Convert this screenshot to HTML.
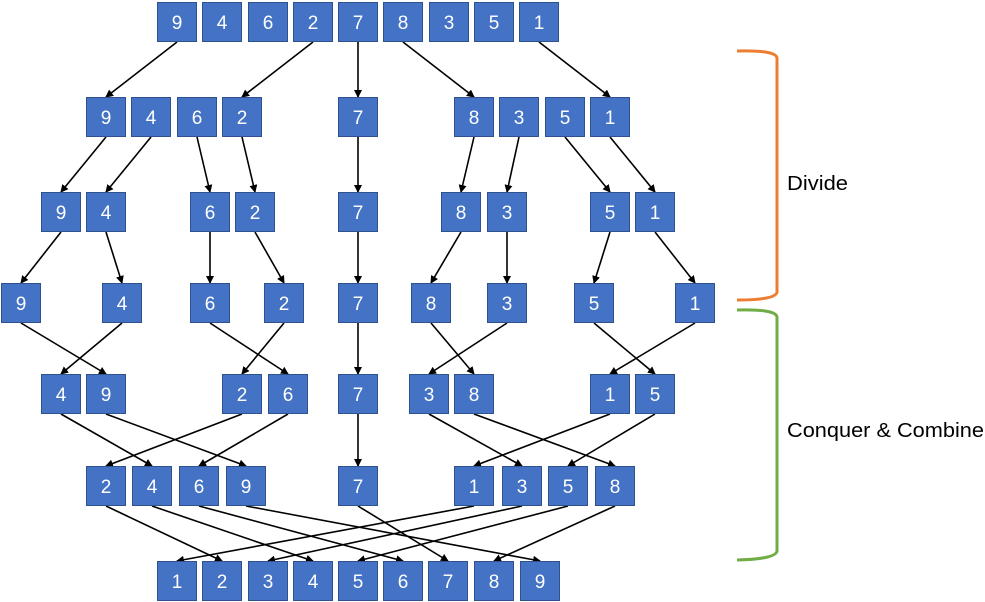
<!DOCTYPE html>
<html><head><meta charset="utf-8"><style>
html,body{margin:0;padding:0;background:#fff;width:985px;height:602px;overflow:hidden}
svg{display:block}
text{font-family:"Liberation Sans",sans-serif}
</style></head><body>
<svg id="s" width="985" height="602" xmlns="http://www.w3.org/2000/svg">
<defs><marker id="a" markerWidth="8" markerHeight="8" refX="7" refY="4" orient="auto" markerUnits="userSpaceOnUse"><path d="M0,0 L8,4 L0,8 z" fill="#000"/></marker></defs>
<g id="lines"></g><g id="boxes"></g>
<path d="M737,51 Q776,50 777,58 L777,292 Q776,300 737,300" fill="none" stroke="#ED7D31" stroke-width="3"/>
<path d="M737,310 Q776,309 777,317 L777,551 Q776,559 737,560" fill="none" stroke="#70AD47" stroke-width="3"/>
<text x="787" y="190" font-size="20" fill="#000" textLength="61" lengthAdjust="spacingAndGlyphs">Divide</text>
<text x="787" y="437" font-size="20" fill="#000" textLength="197" lengthAdjust="spacingAndGlyphs">Conquer &amp; Combine</text>
</svg>
<script>
var ys=[2,97,192,283,374,466,561];
var rows=[
[[157,9],[202,4],[248,6],[293,2],[338,7],[383,8],[429,3],[474,5],[519,1]],
[[86,9],[131,4],[177,6],[222,2],[338,7],[454,8],[499,3],[545,5],[590,1]],
[[41,9],[86,4],[190,6],[235,2],[338,7],[441,8],[487,3],[590,5],[635,1]],
[[1,9],[102,4],[190,6],[264,2],[338,7],[411,8],[487,3],[574,5],[675,1]],
[[41,4],[86,9],[222,2],[268,6],[338,7],[409,3],[454,8],[590,1],[635,5]],
[[86,2],[132,4],[179,6],[226,9],[338,7],[454,1],[502,3],[548,5],[595,8]],
[[157,1],[202,2],[248,3],[293,4],[338,5],[383,6],[428,7],[474,8],[520,9]]];
var ns="http://www.w3.org/2000/svg",B=document.getElementById('boxes'),L=document.getElementById('lines');
function el(t,a,p){var e=document.createElementNS(ns,t);for(var k in a)e.setAttribute(k,a[k]);p.appendChild(e);return e;}
rows.forEach(function(r,i){r.forEach(function(b){
el('rect',{x:b[0]+0.5,y:ys[i]+0.5,width:39,height:39,fill:'#4472C4',stroke:'#2F528F','stroke-width':1},B);
var t=el('text',{x:b[0]+20,y:ys[i]+27,'font-size':19,fill:'#fff','text-anchor':'middle'},B);t.textContent=b[1];});});
function cx(i,j){return rows[i][j][0]+20;}
function arrow(i,j,k){el('line',{x1:cx(i,j),y1:ys[i]+40,x2:cx(i+1,k),y2:ys[i+1],stroke:'#000','stroke-width':1.6,'marker-end':'url(#a)'},L);}
[[0,0],[3,3],[4,4],[5,5],[8,8]].forEach(function(p){arrow(0,p[0],p[1]);});
for(var i=1;i<6;i++){rows[i].forEach(function(b,j){
 var v=b[1];var k=-1;
 rows[i+1].forEach(function(c,m){if(c[1]==v)k=m;});
 arrow(i,j,k);});}
</script>
</body></html>
